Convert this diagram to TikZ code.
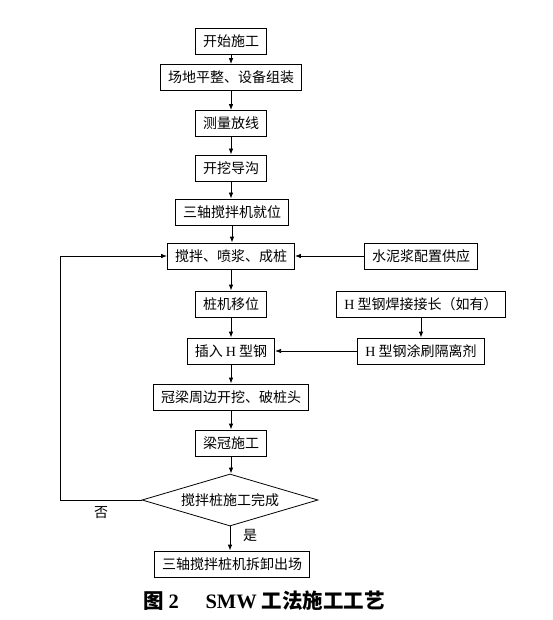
\documentclass[tikz,border=0pt]{standalone}
\usepackage{fontspec}
\setmainfont{Noto Sans CJK SC}
\newfontfamily\latin{Liberation Serif}
\usetikzlibrary{shapes.geometric,arrows.meta}

\begin{document}
\begin{tikzpicture}[x=1pt,y=-1pt,
		box/.style={draw,line width=0.8pt,minimum height=26pt,inner xsep=7.5pt,inner ysep=2pt,font=\fontsize{14}{16}\selectfont},
		arr/.style={-{Latex[length=6pt,width=4.5pt]},line width=0.8pt}]
		\useasboundingbox (0,0) rectangle (553,620);
		
		% main column
		\node[box] (start)  at (231,41)    {开始施工};
		\node[box] (site)   at (231,77.5)  {场地平整、设备组装};
		\node[box] (survey) at (231,123.5) {测量放线};
		\node[box] (trench) at (231,168)   {开挖导沟};
		\node[box] (ready)  at (232,212)   {三轴搅拌机就位};
		\node[box] (mix)    at (231,256)   {搅拌、喷浆、成桩};
		\node[box] (move)   at (231,304)   {桩机移位};
		\node[box] (insert) at (231,351)   {插入 {\latin H} 型钢};
		\node[box] (cap)    at (231,397)   {冠梁周边开挖、破桩头};
		\node[box] (beam)   at (231,443)   {梁冠施工};
		\node[draw,line width=0.8pt,diamond,aspect=3.4,inner sep=0pt,minimum width=176pt,minimum height=52pt,font=\fontsize{14}{16}\selectfont] (done) at (230,500) {搅拌桩施工完成};
		\node[box] (remove) at (232,564)   {三轴搅拌桩机拆卸出场};
		
		% side column
		\node[box] (cement) at (421,256)   {水泥浆配置供应};
		\node[box] (weld)   at (421,304)   {{\latin H} 型钢焊接接长（如有）};
		\node[box] (coat)   at (421,351)   {{\latin H} 型钢涂刷隔离剂};
		
		\foreach \a/\b in {start/site, site/survey, survey/trench, trench/ready, ready/mix,
			mix/move, move/insert, insert/cap, cap/beam, beam/done, done/remove}
			\draw[arr] (\a) -- (\a |- \b.north);
		
		\draw[arr] (cement) -- (mix);
		\draw[arr] (weld) -- (coat);
		\draw[arr] (coat) -- (insert);
		
		\coordinate (back) at (60,500);
		\draw[arr] (done.west) -- (back) |- (mix.west);
		
		\node[font=\fontsize{14}{16}\selectfont] (no)  at (101,513) {否};
		\node[font=\fontsize{14}{16}\selectfont] (yes) at (250,535) {是};
		
		\node[font=\fontsize{20.5}{22}\selectfont\bfseries] (title) at (264,601)
			{图 {\latin 2}\hspace{1.3em}{\latin SMW} 工法施工工艺};
	\end{tikzpicture}
\end{document}
